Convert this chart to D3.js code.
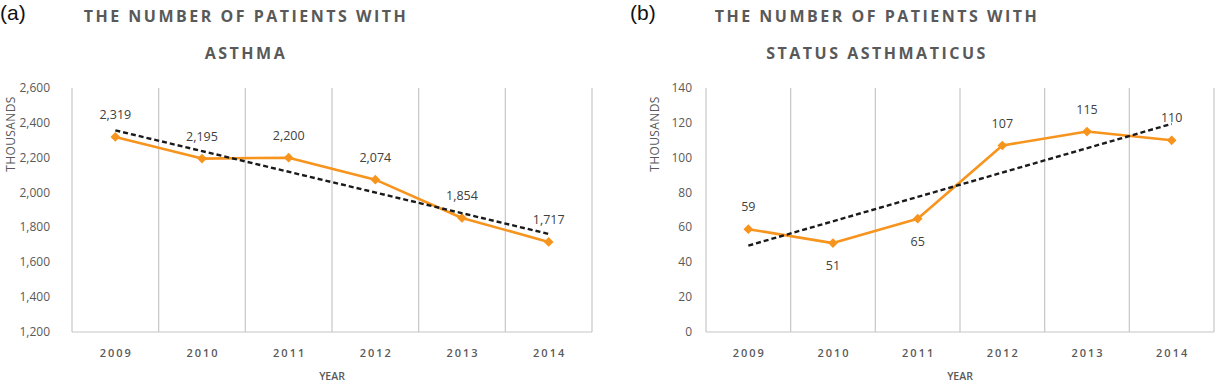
<!DOCTYPE html>
<html>
<head>
<meta charset="utf-8">
<script src="https://cdn.jsdelivr.net/npm/d3@7"></script>
<style>
  body { margin: 0; background: #fff; }
  svg text { font-family: "Open Sans", sans-serif; }
</style>
</head>
<body>
<svg id="chart" width="1229" height="383"></svg>
<script>
// DATA
const years = ["2009", "2010", "2011", "2012", "2013", "2014"];
const asthmaValues = [2319, 2195, 2200, 2074, 1854, 1717];
const statusValues = [59, 51, 65, 107, 115, 110];
const asthmaTicks = [1200, 1400, 1600, 1800, 2000, 2200, 2400, 2600];
const statusTicks = [0, 20, 40, 60, 80, 100, 120, 140];
const asthmaBelow = [false, false, false, false, false, false];
const statusBelow = [false, true, true, false, false, false];

const svg = d3.select('#chart');
const orange = '#f7941d';
const gray = '#595959';

// least squares trend
function trend(values) {
    const n = values.length;
    const mx = (n - 1) / 2;
    const my = d3.mean(values);
    let num = 0, den = 0;
    values.forEach((v, i) => { num += (i - mx) * (v - my); den += (i - mx) * (i - mx); });
    const slope = num / den;
    return [my - slope * mx, my + slope * (n - 1 - mx)];
}

function drawPanel(cfg) {
    const g = svg.append('g');

    const x = d3.scaleBand().domain(years).range([cfg.left, cfg.right]);
    const y = d3.scaleLinear().domain(d3.extent(cfg.ticks)).range([332, 88]);
    const cx = d => x(d) + x.bandwidth() / 2;

    // panel letter
    g.append('text')
        .attr('x', cfg.letterX).attr('y', 20)
        .style('font-family', 'Liberation Sans, Arial, sans-serif')
        .attr('font-size', 21)
        .attr('fill', '#111')
        .text(cfg.letter);

    // title
    const mid = (cfg.left + cfg.right) / 2 + cfg.titleShift;
    cfg.title.forEach((t, i) => {
        g.append('text')
            .attr('x', mid).attr('y', 22 + i * 37)
            .attr('text-anchor', 'middle')
            .attr('font-size', 16)
            .attr('font-weight', 700)
            .attr('letter-spacing', '2.5px')
            .attr('fill', gray)
            .text(t);
    });

    // vertical grid lines
    const bounds = years.map(d => x(d)).concat([cfg.right]);
    g.selectAll('line.grid').data(bounds).enter().append('line')
        .attr('class', 'grid')
        .attr('x1', d => d).attr('x2', d => d)
        .attr('y1', y.range()[1]).attr('y2', y.range()[0])
        .attr('stroke', '#c6c6c6').attr('stroke-width', 1.2);

    g.append('line')
        .attr('x1', cfg.left).attr('x2', cfg.right)
        .attr('y1', y.range()[0]).attr('y2', y.range()[0])
        .attr('stroke', '#c6c6c6').attr('stroke-width', 1.2);

    // y tick labels
    g.selectAll('text.ytick').data(cfg.ticks).enter().append('text')
        .attr('class', 'ytick')
        .attr('x', cfg.left - cfg.tickGap)
        .attr('y', d => y(d) + 4)
        .attr('text-anchor', 'end')
        .attr('font-size', 12)
        .attr('fill', gray)
        .text(d => d3.format(',')(d));

    // x tick labels
    g.selectAll('text.xtick').data(years).enter().append('text')
        .attr('class', 'xtick')
        .attr('x', d => cx(d) + 1)
        .attr('y', 357)
        .attr('text-anchor', 'middle')
        .attr('font-size', 11)
        .attr('font-weight', 600)
        .attr('letter-spacing', '2px')
        .attr('fill', gray)
        .text(d => d);

    // axis titles
    g.append('text')
        .attr('transform', `translate(${cfg.yTitleX},134) rotate(-90)`)
        .attr('text-anchor', 'middle')
        .attr('font-size', 12)
        .attr('letter-spacing', '0.4px')
        .attr('fill', gray)
        .text('THOUSANDS');

    g.append('text')
        .attr('x', (cfg.left + cfg.right) / 2)
        .attr('y', 380)
        .attr('text-anchor', 'middle')
        .attr('font-size', 10.5)
        .attr('font-weight', 600)
        .attr('fill', gray)
        .text('YEAR');

    // data line
    const line = d3.line().x((d, i) => cx(years[i])).y(d => y(d));
    g.append('path')
        .datum(cfg.values)
        .attr('d', line)
        .attr('fill', 'none')
        .attr('stroke', orange)
        .attr('stroke-width', 2.6)
        .attr('stroke-linejoin', 'round');

    g.selectAll('path.marker').data(cfg.values).enter().append('path')
        .attr('class', 'marker')
        .attr('d', d3.symbol().type(d3.symbolDiamond2).size(60))
        .attr('transform', (d, i) => `translate(${cx(years[i])},${y(d)})`)
        .attr('fill', orange);

    // trend line
    const tr = trend(cfg.values);
    g.append('line')
        .attr('x1', cx(years[0])).attr('y1', y(tr[0]))
        .attr('x2', cx(years[years.length - 1])).attr('y2', y(tr[1]))
        .attr('stroke', '#1a1a1a')
        .attr('stroke-width', 2.4)
        .attr('stroke-dasharray', '5,3');

    // value labels
    g.selectAll('text.val').data(cfg.values).enter().append('text')
        .attr('class', 'val')
        .attr('x', (d, i) => cx(years[i]))
        .attr('y', (d, i) => cfg.below[i] ? y(d) + 27 : y(d) - 18)
        .attr('text-anchor', 'middle')
        .attr('font-size', 12.5)
        .attr('fill', '#404040')
        .text(d => d3.format(',')(d));
}

drawPanel({
    letter: '(a)', letterX: 0,
    title: ['THE NUMBER OF PATIENTS WITH', 'ASTHMA'], titleShift: -86,
    left: 72, right: 592, tickGap: 22, yTitleX: 15,
    ticks: asthmaTicks, values: asthmaValues, below: asthmaBelow
});

drawPanel({
    letter: '(b)', letterX: 630,
    title: ['THE NUMBER OF PATIENTS WITH', 'STATUS ASTHMATICUS'], titleShift: -83,
    left: 706, right: 1214, tickGap: 14, yTitleX: 659,
    ticks: statusTicks, values: statusValues, below: statusBelow
});
</script>
</body>
</html>
